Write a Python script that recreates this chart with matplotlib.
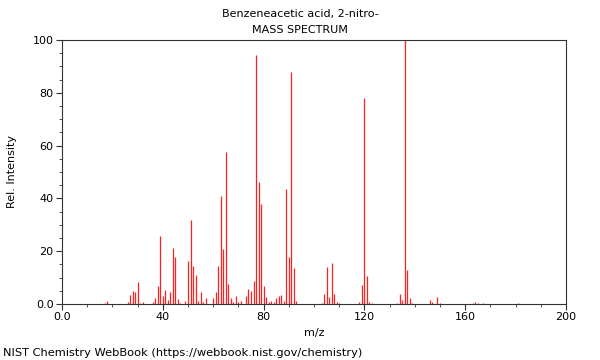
"""Mass spectrum: Benzeneacetic acid, 2-nitro- (NIST style)"""
import matplotlib
matplotlib.use('Agg')
import matplotlib.pyplot as plt
from matplotlib.ticker import MultipleLocator, FixedLocator

# ============== DATA ==============
TITLE = 'Benzeneacetic acid, 2-nitro-'
SUBTITLE = 'MASS SPECTRUM'
FOOTER = 'NIST Chemistry WebBook (https://webbook.nist.gov/chemistry)'

MZ = [17, 18, 26, 27, 28, 29, 30, 31, 32, 36, 37, 38, 39, 40, 41, 42, 43, 44, 45, 46,
      47, 49, 50, 51, 52, 53, 54, 55, 56, 57, 60, 61, 62, 63, 64, 65, 66, 67, 68, 69,
      70, 71, 73, 74, 75, 76, 77, 78, 79, 80, 81, 82, 83, 84, 85, 86, 87, 88, 89, 90,
      91, 92, 93, 103, 104, 105, 106, 107, 108, 109, 110, 118, 119, 120, 121, 122, 123,
      133, 134, 135, 136, 137, 138, 139, 146, 147, 149, 150, 163, 164, 165, 167, 181]
INTENSITY = [0.4, 1.3, 0.8, 3.5, 5.0, 4.5, 8.5, 0.5, 0.9, 0.7, 2.4, 6.8, 25.9, 3.2, 5.4,
             1.5, 4.4, 21.2, 17.8, 1.9, 0.5, 1.3, 16.4, 31.9, 14.4, 11.0, 1.1, 4.6, 0.9,
             2.4, 2.3, 4.5, 14.4, 40.8, 20.8, 57.7, 7.5, 2.1, 0.7, 3.0, 0.8, 1.3, 3.1,
             5.8, 5.0, 8.8, 94.4, 46.2, 38.0, 6.8, 2.8, 0.6, 1.3, 0.9, 2.1, 3.2, 3.4,
             1.3, 43.7, 17.9, 87.8, 13.6, 1.3, 0.4, 3.9, 14.0, 2.8, 15.6, 3.8, 0.6, 0.4,
             0.9, 7.3, 78.0, 10.6, 0.8, 0.4, 0.4, 3.8, 1.6, 100.0, 12.8, 2.3, 0.4, 1.4,
             0.6, 2.5, 0.3, 0.3, 0.9, 0.4, 0.2, 0.2]
X_TICKS = [0, 40, 80, 120, 160, 200]
X_TICK_LABELS = ['0.0', '40', '80', '120', '160', '200']
Y_TICKS = [0, 20, 40, 60, 80, 100]
Y_TICK_LABELS = ['0.0', '20', '40', '60', '80', '100']
# ==================================

plt.rcParams['font.family'] = 'DejaVu Sans'
plt.rcParams['font.size'] = 8

fig = plt.figure(figsize=(6, 3.6), dpi=100)
ax = fig.add_axes([62 / 600, 1 - 304 / 360, 504 / 600, 264 / 360])

ax.vlines(MZ, 0, INTENSITY, colors='#ff2020', linewidth=0.9)

ax.set_xlim(0, 200)
ax.set_ylim(0, 100)
ax.xaxis.set_major_locator(FixedLocator(X_TICKS))
ax.set_xticklabels(X_TICK_LABELS)
ax.yaxis.set_major_locator(FixedLocator(Y_TICKS))
ax.set_yticklabels(Y_TICK_LABELS)
ax.xaxis.set_minor_locator(MultipleLocator(10))
ax.yaxis.set_minor_locator(MultipleLocator(5))
ax.tick_params(which='major', length=4, width=0.8, color='#333333', labelsize=8, pad=2)
ax.tick_params(which='minor', length=2.5, width=0.6, color='#333333')

for sp in ax.spines.values():
    sp.set_color('#333333')
    sp.set_linewidth(0.8)

ax.set_xlabel('m/z', fontsize=8, labelpad=4)
ax.set_ylabel('Rel. Intensity', fontsize=8, labelpad=11)

fig.text(0.5, 1 - 14 / 360, TITLE, ha='center', va='center', fontsize=8)
fig.text(0.5, 1 - 30 / 360, SUBTITLE, ha='center', va='center', fontsize=8)
fig.text(3 / 600, 1 - 353 / 360, FOOTER, ha='left', va='center', fontsize=8.2)

fig.savefig('out.png', dpi=100)
